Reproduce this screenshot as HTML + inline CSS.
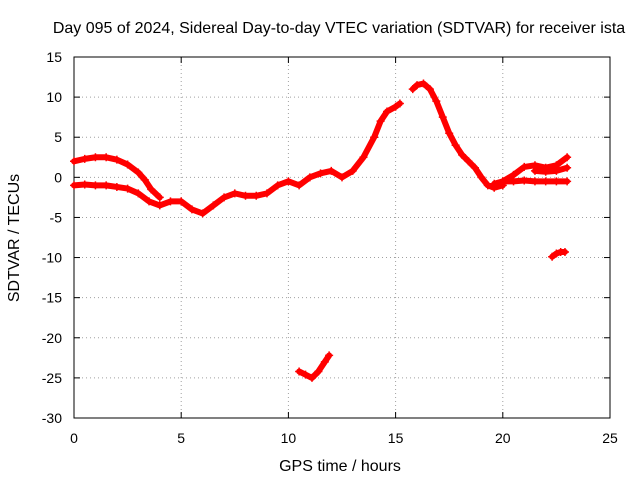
<!DOCTYPE html>
<html><head><meta charset="utf-8"><style>
body{margin:0;background:#fff;}
svg{display:block;font-family:"Liberation Sans",sans-serif;}
</style></head><body>
<svg id="chart" width="640" height="480" viewBox="0 0 640 480">
<rect width="640" height="480" fill="#fff"/>
<text x="339" y="33" font-size="16" text-anchor="middle">Day 095 of 2024, Sidereal Day-to-day VTEC variation (SDTVAR) for receiver ista</text>
<text transform="translate(19,238) rotate(-90)" font-size="16" text-anchor="middle">SDTVAR / TECUs</text>
<text x="340" y="471" font-size="16" text-anchor="middle">GPS time / hours</text>
<g id="grid"></g><g id="axes"></g><g id="marks"></g>
</svg>
<script>
const xTicks=[0,5,10,15,20,25];
const yTicks=[15,10,5,0,-5,-10,-15,-20,-25,-30];
const traceUpperX=[0,0.5,1,1.5,2,2.5,3,3.3,3.6,4];
const traceUpperY=[2,2.3,2.5,2.5,2.2,1.6,0.6,-0.3,-1.5,-2.5];
const traceMainX=[0,0.5,1,1.5,2,2.5,3,3.5,4,4.5,5,5.5,6,6.5,7,7.5,8,8.5,9,9.5,10,10.5,11,11.5,12,12.5,13,13.5,14,14.3,14.6,15,15.2];
const traceMainY=[-1,-0.9,-1,-1,-1.2,-1.4,-2,-3,-3.5,-3,-3,-4,-4.5,-3.5,-2.5,-2,-2.3,-2.3,-2,-1,-0.5,-1,0,0.5,0.8,0,0.8,2.5,5,7,8.2,8.8,9.2];
const tracePeakX=[15.8,16,16.3,16.6,16.9,17.2,17.5,17.8,18.1,18.4,18.7,19,19.3,19.6,20];
const tracePeakY=[11,11.5,11.7,11,9.5,7.5,5.5,4,2.8,2,1.2,0,-1,-1.3,-1];
const traceLateLowX=[19.6,20,20.5,21,21.5,22,22.5,23];
const traceLateLowY=[-0.8,-0.5,-0.5,-0.4,-0.5,-0.5,-0.5,-0.5];
const traceLateUpX=[20,20.5,21,21.5,22,22.5,23];
const traceLateUpY=[-0.5,0.3,1.3,1.5,1.2,1.5,2.5];
const traceLateMidX=[21.5,22,22.5,23];
const traceLateMidY=[0.8,0.7,0.8,1.2];
const traceDipX=[10.5,10.8,11.1,11.4,11.7,11.9];
const traceDipY=[-24.2,-24.6,-25,-24.2,-23,-22.2];
const traceLateDipX=[22.3,22.5,22.7,22.9];
const traceLateDipY=[-9.9,-9.5,-9.3,-9.3];

const X0=74,X1=610,Y0=418,Y1=57;
const xs=v=>X0+(v-0)/25*(X1-X0);
const ys=v=>Y0-(v+30)/45*(Y0-Y1);
const NS="http://www.w3.org/2000/svg";
function mk(tag,attrs,parent){const e=document.createElementNS(NS,tag);for(const k in attrs)e.setAttribute(k,attrs[k]);parent.appendChild(e);return e;}
const grid=document.getElementById('grid'),axes=document.getElementById('axes'),marks=document.getElementById('marks');
xTicks.forEach(t=>{
  const x=xs(t);
  if(t>0&&t<25){const g=mk('line',{x1:x,x2:x,y1:Y1,y2:Y0,stroke:'#a0a0a0','stroke-dasharray':'1,3'},grid);
  
  }
  mk('line',{x1:x,x2:x,y1:Y0,y2:Y0-6,stroke:'#000'},axes);
  mk('line',{x1:x,x2:x,y1:Y1,y2:Y1+6,stroke:'#000'},axes);
  const l=mk('text',{x:x,y:Y0+25,'font-size':'14','text-anchor':'middle'},axes);
  l.textContent=t;
  
  
});
yTicks.forEach(t=>{
  const y=ys(t);
  if(t>-30&&t<15){const g=mk('line',{x1:X0,x2:X1,y1:y,y2:y,stroke:'#a0a0a0','stroke-dasharray':'1,3'},grid);
  
  }
  mk('line',{x1:X0,x2:X0+6,y1:y,y2:y,stroke:'#000'},axes);
  mk('line',{x1:X1,x2:X1-6,y1:y,y2:y,stroke:'#000'},axes);
  const l=mk('text',{x:X0-12,y:y+5,'font-size':'14','text-anchor':'end'},axes);
  l.textContent=t;
  
  
});
const fr=mk('rect',{x:X0,y:Y1,width:X1-X0,height:Y0-Y1,fill:'none',stroke:'#000'},axes);


function series(X,Y,name){
  const pts=X.map((v,i)=>xs(v)+','+ys(Y[i])).join(' ');
  const p=mk('polyline',{points:pts,fill:'none',stroke:'#f00','stroke-width':'6','stroke-linejoin':'round','stroke-linecap':'round'},marks);
  
  
  X.forEach((v,i)=>{
    const cx=xs(v),cy=ys(Y[i]);
    const m=mk('path',{d:`M${cx-4},${cy}h8M${cx},${cy-4}v8`,stroke:'#f00','stroke-width':'1.5'},marks);
    
    
  });
}
series(traceUpperX,traceUpperY,'trace-upper');
series(traceMainX,traceMainY,'trace-main');
series(tracePeakX,tracePeakY,'trace-peak');
series(traceLateLowX,traceLateLowY,'trace-late-low');
series(traceLateUpX,traceLateUpY,'trace-late-up');
series(traceLateMidX,traceLateMidY,'trace-late-mid');
series(traceDipX,traceDipY,'trace-dip');
series(traceLateDipX,traceLateDipY,'trace-late-dip');
</script>
</body></html>
